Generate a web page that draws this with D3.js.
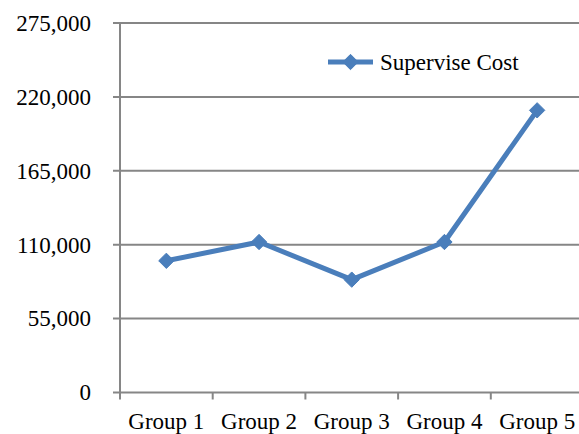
<!DOCTYPE html>
<html>
<head>
<meta charset="utf-8">
<script src="https://cdn.jsdelivr.net/npm/d3@7"></script>
<style>
  html, body { margin: 0; padding: 0; background: #fff; }
  svg text { font-family: "Liberation Serif", "Times New Roman", serif; fill: #000; }
</style>
</head>
<body>
<svg id="chart" width="579" height="434"></svg>
<script>
// Data
const categories = ["Group 1", "Group 2", "Group 3", "Group 4", "Group 5"];
const seriesName = "Supervise Cost";
const values = [98000, 112000, 84000, 112000, 210000];
const yTicks = [0, 55000, 110000, 165000, 220000, 275000];

const svg = d3.select("#chart");
const margin = { left: 120, right: -4.5, top: 23, bottom: 41.5 };
const W = 579, H = 434;
const x0 = margin.left, x1 = W - margin.right;
const y0 = H - margin.bottom, y1 = margin.top;

const x = d3.scaleBand().domain(categories).range([x0, x1]);
const y = d3.scaleLinear().domain([0, 275000]).range([y0, y1]);

const gridColor = "#868686";
const lineColor = "#4a7ebb";

// Horizontal gridlines
svg.append("g").selectAll("line").data(yTicks).join("line")
  .attr("x1", x0 - 7).attr("x2", W)
  .attr("y1", d => y(d)).attr("y2", d => y(d))
  .attr("stroke", gridColor).attr("stroke-width", 2);

// Y axis labels
const fmt = d3.format(",");
svg.append("g").selectAll("text").data(yTicks).join("text")
  .attr("x", 91).attr("y", d => y(d))
  .attr("dy", "0.34em")
  .attr("text-anchor", "end")
  .attr("font-size", 23)
  .text(d => fmt(d));

// Y axis line
svg.append("line")
  .attr("x1", x0).attr("x2", x0).attr("y1", y1).attr("y2", y0 + 7)
  .attr("stroke", gridColor).attr("stroke-width", 2);

// X axis tick marks at category boundaries
const bounds = categories.map(c => x(c));
svg.append("g").selectAll("line").data(bounds.slice(1)).join("line")
  .attr("x1", d => d).attr("x2", d => d)
  .attr("y1", y0).attr("y2", y0 + 7)
  .attr("stroke", gridColor).attr("stroke-width", 2);

// X axis labels
svg.append("g").selectAll("text").data(categories).join("text")
  .attr("x", d => x(d) + x.bandwidth() / 2)
  .attr("y", 429)
  .attr("text-anchor", "middle")
  .attr("font-size", 23)
  .text(d => d);

// Series line
const pts = categories.map((c, i) => [x(c) + x.bandwidth() / 2, y(values[i])]);
svg.append("path")
  .attr("d", d3.line()(pts))
  .attr("fill", "none")
  .attr("stroke", lineColor)
  .attr("stroke-width", 5)
  .attr("stroke-linejoin", "round");

// Diamond markers
const diamond = d3.symbol().type(d3.symbolDiamond2).size(150);
svg.append("g").selectAll("path").data(pts).join("path")
  .attr("transform", d => `translate(${d[0]},${d[1]})`)
  .attr("d", diamond)
  .attr("fill", lineColor)
  .attr("stroke", lineColor)
  .attr("stroke-width", 1);

// Legend
const lg = svg.append("g");
lg.append("line")
  .attr("x1", 328).attr("x2", 373).attr("y1", 62).attr("y2", 62)
  .attr("stroke", lineColor).attr("stroke-width", 5);
lg.append("path")
  .attr("transform", "translate(350.5,62)")
  .attr("d", diamond)
  .attr("fill", lineColor)
  .attr("stroke", lineColor)
  .attr("stroke-width", 1);
lg.append("text")
  .attr("x", 380).attr("y", 62)
  .attr("dy", "0.34em")
  .attr("font-size", 23)
  .text(seriesName);
</script>
</body>
</html>
